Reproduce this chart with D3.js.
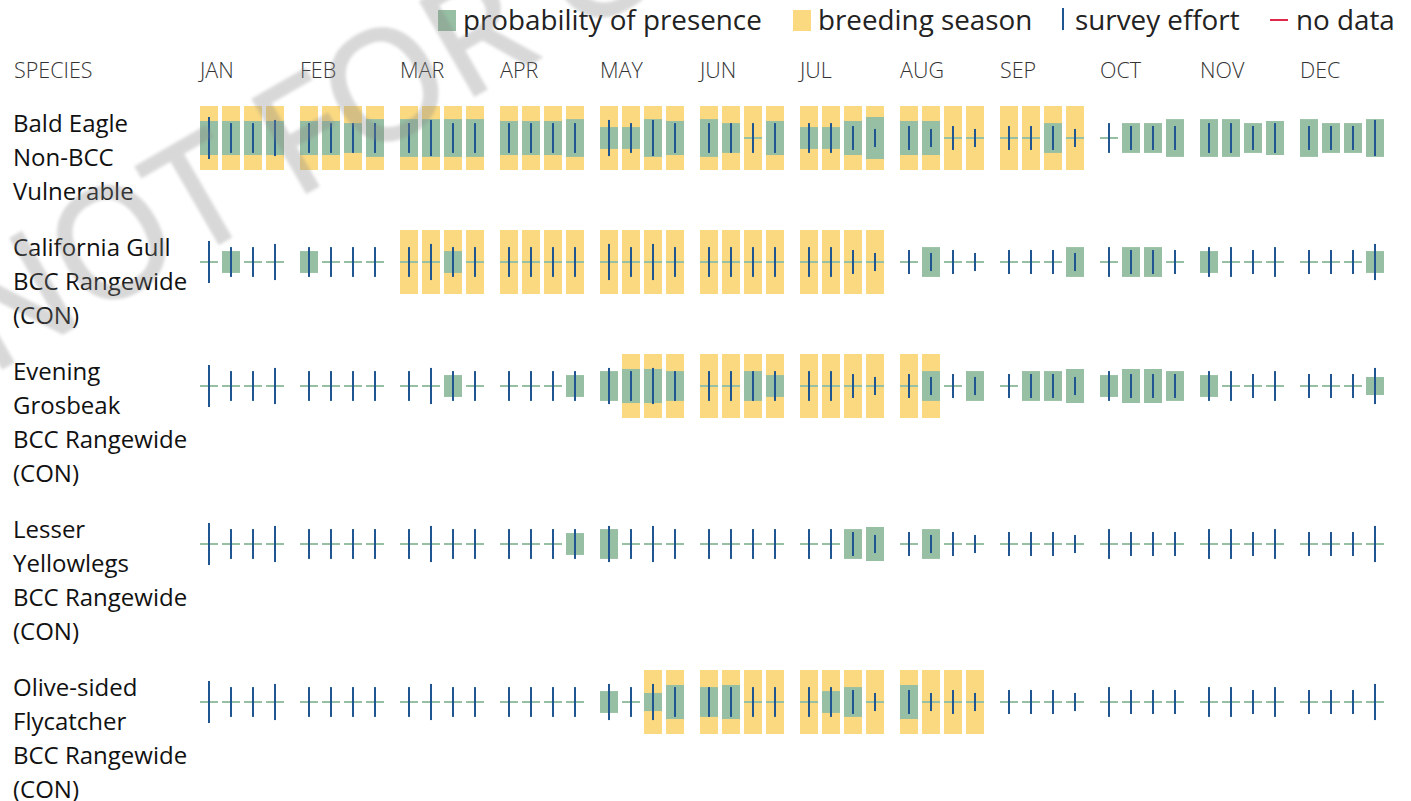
<!DOCTYPE html>
<html>
<head>
<meta charset="utf-8">
<script src="https://cdn.jsdelivr.net/npm/d3@7"></script>
<style>
  body { margin: 0; background: #fff; }
  text { font-family: "Open Sans", sans-serif; }
</style>
</head>
<body>
<script>
const months = ["JAN", "FEB", "MAR", "APR", "MAY", "JUN", "JUL", "AUG", "SEP", "OCT", "NOV", "DEC"];
const weeks = [0, 1, 2, 3];

const speciesLabels = [
  ["Bald Eagle", "Non-BCC", "Vulnerable"],
  ["California Gull", "BCC Rangewide", "(CON)"],
  ["Evening", "Grosbeak", "BCC Rangewide", "(CON)"],
  ["Lesser", "Yellowlegs", "BCC Rangewide", "(CON)"],
  ["Olive-sided", "Flycatcher", "BCC Rangewide", "(CON)"]
];

// probability of presence, 4 values per month (relative to max)
const presenceBaldEagle = [
  .81, .81, .81, .81,  .81, .81, .71, .9,  .9, .9, .9, .9,  .81, .81, .81, .9,
  .52, .52, .9, .81,  .9, .71, 0, .81,  .52, .52, .81, 1,  .81, .81, 0, 0,
  0, 0, .71, 0,  0, .71, .71, .9,  .9, .9, .71, .81,  .9, .71, .71, .9
];
const presenceCaliforniaGull = [
  0, .52, 0, 0,  .52, 0, 0, 0,  0, 0, .52, 0,  0, 0, 0, 0,
  0, 0, 0, 0,  0, 0, 0, 0,  0, 0, 0, 0,  0, .71, 0, 0,
  0, 0, 0, .71,  0, .71, .71, 0,  .52, 0, 0, 0,  0, 0, 0, .52
];
const presenceEveningGrosbeak = [
  0, 0, 0, 0,  0, 0, 0, 0,  0, 0, .52, 0,  0, 0, 0, .52,
  .71, .81, .81, .71,  0, 0, .71, .52,  0, 0, 0, 0,  0, .71, 0, .71,
  0, .71, .71, .81,  .52, .81, .81, .71,  .52, 0, 0, 0,  0, 0, 0, .43
];
const presenceLesserYellowlegs = [
  0, 0, 0, 0,  0, 0, 0, 0,  0, 0, 0, 0,  0, 0, 0, .52,
  .71, 0, 0, 0,  0, 0, 0, 0,  0, 0, .71, .81,  0, .71, 0, 0,
  0, 0, 0, 0,  0, 0, 0, 0,  0, 0, 0, 0,  0, 0, 0, 0
];
const presenceOliveSided = [
  0, 0, 0, 0,  0, 0, 0, 0,  0, 0, 0, 0,  0, 0, 0, 0,
  .52, 0, .43, .81,  .71, .81, 0, 0,  0, .52, .71, 0,  .81, 0, 0, 0,
  0, 0, 0, 0,  0, 0, 0, 0,  0, 0, 0, 0,  0, 0, 0, 0
];

// survey effort (same for every species here)
const surveyEffort = [
  1, .71, .71, .86,  .71, .71, .71, .71,  .71, .86, .71, .71,  .71, .71, .71, .71,
  .86, .71, .86, .71,  .71, .71, .71, .71,  .71, .71, .57, .43,  .57, .43, .57, .43,
  .57, .57, .57, .43,  .71, .57, .57, .57,  .71, .71, .57, .71,  .57, .57, .57, .86
];

// breeding season as [first week, last week] index, null = none
const breedingSeasons = [[0, 35], [8, 27], [17, 29], null, [18, 31]];

const presence = [presenceBaldEagle, presenceCaliforniaGull, presenceEveningGrosbeak,
  presenceLesserYellowlegs, presenceOliveSided];

const width = 1411, height = 801;
const green = "#96bfa3", yellow = "#fad981", blue = "#1f5591", red = "#e0284c";

const svg = d3.select("body").append("svg")
  .attr("width", width)
  .attr("height", height);

const x = d3.scaleBand().domain(months).range([200, 1400]);
const xw = d3.scaleBand().domain(weeks).range([0, 84]).paddingInner(4 / 22);
const h = d3.scaleLinear().domain([0, 1]).range([0, 42]);

const lineH = 34;

// row positions follow the label heights
let rowTop = [];
let acc = 124;
speciesLabels.forEach(l => { rowTop.push(acc); acc += l.length * lineH + 22; });

// header
svg.append("text").attr("x", 14).attr("y", 78)
  .attr("font-size", 21.5).attr("font-weight", 300).attr("fill", "#333")
  .text("SPECIES");
svg.selectAll(".month").data(months).join("text")
  .attr("x", d => x(d))
  .attr("y", 78)
  .attr("font-size", 21.5).attr("font-weight", 300).attr("fill", "#333")
  .text(d => d);

// legend
const legend = svg.append("g");
legend.append("rect").attr("x", 438).attr("y", 10).attr("width", 18).attr("height", 21).attr("fill", green);
legend.append("text").attr("x", 463).attr("y", 30).attr("font-size", 27.8).attr("fill", "#222").text("probability of presence");
legend.append("rect").attr("x", 793).attr("y", 10).attr("width", 18).attr("height", 21).attr("fill", yellow);
legend.append("text").attr("x", 818).attr("y", 30).attr("font-size", 27.8).attr("fill", "#222").text("breeding season");
legend.append("rect").attr("x", 1062).attr("y", 8).attr("width", 2).attr("height", 22).attr("fill", blue);
legend.append("text").attr("x", 1075).attr("y", 30).attr("font-size", 27.8).attr("fill", "#222").text("survey effort");
legend.append("rect").attr("x", 1270).attr("y", 19).attr("width", 18).attr("height", 2).attr("fill", red);
legend.append("text").attr("x", 1296).attr("y", 30).attr("font-size", 27.8).attr("fill", "#222").text("no data");

// rows
speciesLabels.forEach((lines, i) => {
  const top = rowTop[i];
  const cy = top + 14;
  const g = svg.append("g");

  g.selectAll(".lbl").data(lines).join("text")
    .attr("x", 13)
    .attr("y", (d, j) => top + 8 + j * lineH)
    .attr("font-size", 24)
    .attr("fill", "#111")
    .text(d => d);

  const cells = d3.range(48).map(k => ({
    month: months[Math.floor(k / 4)],
    week: k % 4,
    p: presence[i][k],
    e: surveyEffort[k],
    b: breedingSeasons[i] && k >= breedingSeasons[i][0] && k <= breedingSeasons[i][1]
  }));
  const cx = d => x(d.month) + xw(d.week);

  g.selectAll(".breed").data(cells.filter(d => d.b)).join("rect")
    .attr("x", cx).attr("y", cy - 32)
    .attr("width", xw.bandwidth()).attr("height", 64)
    .attr("fill", yellow);

  g.selectAll(".base").data(cells).join("rect")
    .attr("x", cx).attr("y", cy - 1)
    .attr("width", xw.bandwidth()).attr("height", 2)
    .attr("fill", green);

  g.selectAll(".pres").data(cells.filter(d => d.p > 0)).join("rect")
    .attr("x", cx).attr("y", d => cy - h(d.p) / 2)
    .attr("width", xw.bandwidth()).attr("height", d => h(d.p))
    .attr("fill", green);

  g.selectAll(".eff").data(cells).join("rect")
    .attr("x", d => cx(d) + xw.bandwidth() / 2 - 1).attr("y", d => cy - h(d.e) / 2)
    .attr("width", 2).attr("height", d => h(d.e))
    .attr("fill", blue);
});

// watermark
svg.append("defs").append("filter").attr("id", "soft")
  .append("feGaussianBlur").attr("stdDeviation", 1.5);
svg.append("text")
  .attr("transform", "translate(-10,375) rotate(-30)")
  .attr("font-size", 150)
  .attr("fill", "#888")
  .attr("stroke", "#888")
  .attr("stroke-width", 3)
  .attr("opacity", 0.32)
  .attr("filter", "url(#soft)")
  .text("NOT FOR CONSULTATION");
</script>
</body>
</html>
